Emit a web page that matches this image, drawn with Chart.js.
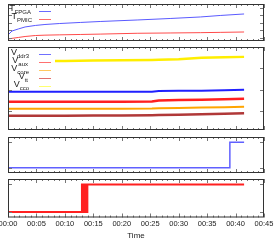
<!DOCTYPE html>
<html>
<head>
<meta charset="utf-8">
<script src="https://cdn.jsdelivr.net/npm/chart.js@4.4.1/dist/chart.umd.min.js"></script>
<style>
  body { margin: 0; background: #fff; width: 274px; height: 240px; position: relative; overflow: hidden;
         font-family: "Liberation Sans", Arial, sans-serif; color: #222; }
  .pane { position: absolute; left: 0; width: 274px; }
  .txt { position: absolute; left: 0; height: 12px; text-align: right; font-size: 9px; line-height: 9px; white-space: nowrap; }
  .txt .s { font-size: 6px; line-height: 6px; position: relative; top: 3px; }
  .smp { position: absolute; left: 39px; width: 12px; height: 1px; }
  .box { position: absolute; background: #fff; }
</style>
</head>
<body>
<canvas id="c1" class="pane" style="top:0px" width="274" height="46"></canvas>
<canvas id="c2" class="pane" style="top:44px" width="274" height="90"></canvas>
<canvas id="c3" class="pane" style="top:133px" width="274" height="44"></canvas>
<canvas id="c4" class="pane" style="top:175px" width="274" height="65"></canvas>

<!-- key, panel 1 -->
<div class="txt" style="top:4px;width:31px">T<span class="s">FPGA</span></div>
<div class="smp" style="top:11px;background:#6a6aff"></div>
<div class="txt" style="top:12px;width:32px">T<span class="s">PMIC</span></div>
<div class="smp" style="top:19px;background:#ff6a6a"></div>

<!-- key, panel 2 (opaque) -->
<div class="box" style="left:9px;top:48px;width:46px;height:41px"></div>
<div class="txt" style="top:48px;width:29px">V<span class="s">ddr3</span></div>
<div class="smp" style="top:54px;background:#7070ff"></div>
<div class="txt" style="top:56px;width:28px">V<span class="s">aux</span></div>
<div class="smp" style="top:62px;background:#ff7070"></div>
<div class="txt" style="top:64px;width:29px">V<span class="s">core</span></div>
<div class="smp" style="top:70px;background:#ffc860"></div>
<div class="txt" style="top:72px;width:28px">V<span class="s">tt</span></div>
<div class="smp" style="top:78px;background:#e07070"></div>
<div class="txt" style="top:80px;width:29px">V<span class="s">cco</span></div>
<div class="smp" style="top:86px;background:#ffff70"></div>

<script>
// time axis, minutes since start
var timeTicks = [0, 5, 10, 15, 20, 25, 30, 35, 40, 45];

// temperatures (deg C)
var tempTime = [0, 0.7, 1.8, 3.0, 4.8, 6.5, 9.1, 12.7, 16.2, 22.7, 28.5, 33.8, 37.3, 41.5];
var tFpga    = [34.0, 39.3, 42.0, 44.7, 46.7, 48.0, 49.3, 50.7, 52.0, 54.0, 56.0, 58.0, 60.0, 62.0];
var tPmic    = [28.7, 29.5, 30.7, 32.0, 33.3, 33.8, 34.2, 34.7, 35.2, 36.3, 36.7, 37.1, 37.5, 38.0];
var tempTicks = [30, 40, 50, 60, 70];

// supply rails
var voltTime = [0, 5, 10, 15, 20, 25.3, 26.5, 30, 34, 38, 41.5];
var vDdr3 = [0.946, 0.946, 0.946, 0.946, 0.947, 0.950, 0.965, 0.970, 0.975, 0.985, 0.993];
var vAux  = [0.711, 0.711, 0.711, 0.713, 0.715, 0.720, 0.745, 0.752, 0.760, 0.770, 0.782];
var vCore = [0.547, 0.547, 0.548, 0.550, 0.552, 0.555, 0.560, 0.568, 0.578, 0.587, 0.594];
var vTt   = [0.383, 0.383, 0.385, 0.388, 0.392, 0.398, 0.402, 0.408, 0.420, 0.432, 0.441];
var vCco  = [1.670, 1.672, 1.674, 1.680, 1.690, 1.697, 1.700, 1.715, 1.745, 1.760, 1.768];
var voltTicks = [0.5, 1.0, 1.5];

// flag (panel 3)
var flagTime = [0, 39.0, 41.5];
var flagVals = [0, 1, 1];

// power-good (panel 4), chatters around 13 min
var pgTime = [0, 13.0, 13.12, 13.24, 13.36, 13.48, 13.6, 13.72, 13.84, 13.95, 41.5];
var pgVals = [0, 1, 0, 1, 0, 1, 0, 1, 0, 1, 1];
var stateTicks = [0, 1];

function pts(xs, ys) {
    return xs.map(function (t, i) { return {x: t, y: ys[i]}; });
}

function line(data, color, width, stepped) {
    return {
        data: data, borderColor: color, borderWidth: width,
        pointRadius: 0, tension: 0, stepped: !!stepped, fill: false
    };
}

// gnuplot-ish frame with inward ticks
function framePlugin(yTicks) {
    return {
        id: 'frame',
        afterDatasetsDraw: function (chart) {
            var ctx = chart.ctx, a = chart.chartArea;
            var x = chart.scales.x, y = chart.scales.y;
            ctx.save();
            ctx.strokeStyle = '#777';
            ctx.lineWidth = 1;
            ctx.beginPath();
            for (var m = 0; m <= 45; m++) {
                var px = Math.round(x.getPixelForValue(m)) + 0.5;
                var len = m % 5 === 0 ? 4 : 2;
                ctx.moveTo(px, a.top); ctx.lineTo(px, a.top + len);
                ctx.moveTo(px, a.bottom); ctx.lineTo(px, a.bottom - len);
            }
            yTicks.forEach(function (v) {
                var py = Math.round(y.getPixelForValue(v)) + 0.5;
                ctx.moveTo(a.left, py); ctx.lineTo(a.left + 4, py);
                ctx.moveTo(a.right, py); ctx.lineTo(a.right - 4, py);
            });
            ctx.stroke();
            ctx.strokeStyle = '#333';
            ctx.strokeRect(a.left + 0.5, a.top + 0.5, a.width - 1, a.height - 1);
            ctx.restore();
        }
    };
}

function makePanel(id, datasets, yMin, yMax, yTicks, pad, showTime) {
    var xScale = {
        type: 'linear', min: 0, max: 45, display: false
    };
    if (showTime) {
        xScale = {
            type: 'linear', min: 0, max: 45, display: true,
            grid: { display: false, drawTicks: false },
            border: { display: false },
            afterBuildTicks: function (s) { s.ticks = timeTicks.map(function (v) { return {value: v}; }); },
            afterFit: function (s) { s.paddingLeft = 0; s.paddingRight = 0; },
            ticks: {
                autoSkip: false, maxRotation: 0, padding: 3, color: '#222',
                font: { family: 'Liberation Sans', size: 7.5, lineHeight: 1 },
                callback: function (v) { return '00:' + String(v).padStart(2, '0'); }
            },
            title: {
                display: true, text: 'Time', color: '#222', padding: { top: 1, bottom: 0 },
                font: { family: 'Liberation Sans', size: 8, lineHeight: 1 }
            }
        };
    }
    return new Chart(document.getElementById(id), {
        type: 'line',
        data: { datasets: datasets },
        options: {
            responsive: false,
            animation: false,
            layout: { padding: pad },
            plugins: { legend: { display: false }, tooltip: { enabled: false } },
            scales: {
                x: xScale,
                y: { type: 'linear', min: yMin, max: yMax, display: false }
            }
        },
        plugins: [framePlugin(yTicks)]
    });
}

makePanel('c1', [
    line(pts(tempTime, tFpga), '#5a5aff', 1),
    line(pts(tempTime, tPmic), '#ff4a4a', 1)
], 26, 75.3, tempTicks, { left: 8, right: 10, top: 4, bottom: 5 });

makePanel('c2', [
    line(pts(voltTime, vDdr3), '#2020ff', 2),
    line(pts(voltTime, vAux), '#ff2020', 2.5),
    line(pts(voltTime, vCore), '#ffa500', 2),
    line(pts(voltTime, vTt), '#b03838', 2.5),
    line(pts(voltTime, vCco), '#ffee00', 2.5)
], 0.05, 2.0, voltTicks, { left: 8, right: 10, top: 3, bottom: 4 });

makePanel('c3', [
    line(pts(flagTime, flagVals), '#6060ff', 1.5, true)
], -0.2, 1.2, stateTicks, { left: 8, right: 10, top: 4, bottom: 4 });

makePanel('c4', [
    line(pts(pgTime, pgVals), '#ff2020', 2, true)
], -0.2, 1.2, stateTicks, { left: 8, right: 10, top: 4, bottom: 0 }, true);
</script>
</body>
</html>
